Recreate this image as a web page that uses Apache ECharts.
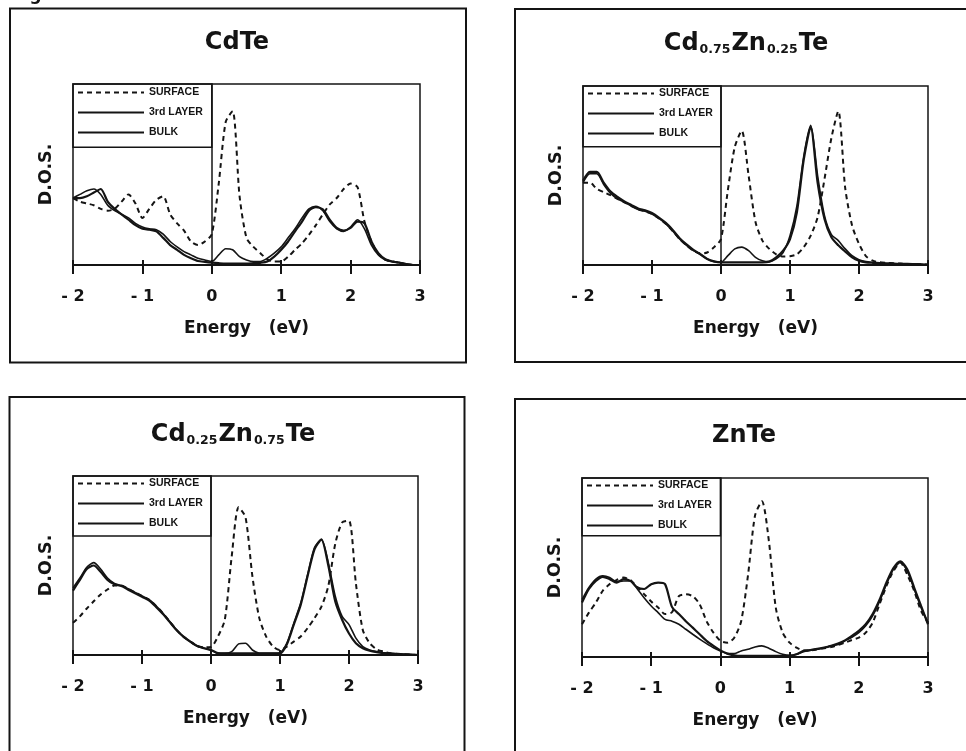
<!DOCTYPE html>
<html>
<head>
<meta charset="utf-8">
<script src="https://cdn.jsdelivr.net/npm/echarts@6/dist/echarts.min.js"></script>
<style>
html,body{margin:0;padding:0;background:#fff;}
#chart{width:966px;height:751px;}
</style>
</head>
<body>
<div id="chart"></div>
<script>
// ---------------- DATA ----------------
const energy = [-2,-1.9,-1.8,-1.7,-1.6,-1.5,-1.4,-1.3,-1.2,-1.1,-1,-0.9,-0.8,-0.7,-0.6,-0.5,-0.4,-0.3,-0.2,-0.1,
  0,0.1,0.2,0.3,0.4,0.5,0.6,0.7,0.8,0.9,1,1.1,1.2,1.3,1.4,1.5,1.6,1.7,1.8,1.9,2,2.1,2.2,2.3,2.4,2.5,2.6,2.7,2.8,2.9,3];
const tickValues = [-2,-1,0,1,2,3];
const tickLabels = ['- 2','- 1','0','1','2','3'];
const seriesNames = ['SURFACE','3rd LAYER','BULK'];
const panelTitles = ['CdTe','Cd{s|0.75}Zn{s|0.25}Te','Cd{s|0.25}Zn{s|0.75}Te','ZnTe'];

// CdTe
const cdteSurface = [37,35,34,33,31,30,31,35,39,34,26,31,36,38,28,23,19,13,11,13,17,
  45,79,85,38,15,10,6.5,3,2,2, 4.6,8.4,12,16.7,22,28,33.5,37,42,45, 43,24,13,6,3,2,1.3,0.5,0,0];
const cdteThird = [37,39,41,42,39,33,30,28,26,23,21,20,19.5,17,13,10,7.4,5.6,3.7,2.8,1.9,
  5.6,9,8.4,4.6,2.8,1.9,1.9,3.7,6.5,10, 15,20,26,31,32.5,30,24,20,18.6,21, 25,20,11,5.6,2.8,1.9,1.3,0.5,0,0];
const cdteBulk = [37,37,38,40,42,35,31,28,25,22,20,19.5,18.6,15,11,8.4,5.6,3.7,2.2,1.7,1.3,
  1,0.8,0.8,0.8,0.8,1,1.2,1.9,4.6,8.4, 13,18.6,24,30,32,30.7,25,20.5,19,20.5, 24,23,13,6.5,3.2,1.9,1.3,0.5,0,0];

// Cd0.75Zn0.25Te
const czt75Surface = [46,46,42.5,40.7,39,37,35,33,31,30,28.5,26,23,19,14.5,11,8,6.5,7,10,14.5,
  42,66,75,50,24,13.6,9,6,4.7,4.9, 6,10,16.4,26.7,48,71,86,43,22,11.8, 5,2.4,1.5,1.2,1,0.8,0.6,0.6,0.4,0.2];
const czt75Third = [46,51,51,45,40,37,35,33,31,30,28.5,26,23,19,14.5,11,8,6,3.4,1.9,1.5,
  5.2,9,10,8,4.3,2.4,1.9,3.4,7,16.4, 33,61,78,50,27.6,17,13.6,9,5.2,3, 1.9,1.5,1.2,1,0.8,0.6,0.6,0.5,0.4,0.2];
const czt75Bulk = [47,52,52,46,41,38,35.5,33.5,31.5,30.5,29,26.5,23.5,19.5,15,11.5,8.5,6,3.4,2,1.5,
  1.5,1.5,1.5,1.5,1.5,1.5,1.9,4.3,8,14.5, 29.5,59,77,46,25.7,15.5,11,7.5,4.3,2.4, 1.5,1.2,1,0.8,0.8,0.6,0.6,0.5,0.4,0.2];

// Cd0.25Zn0.75Te
const czt25Surface = [18,21.6,26,30,33.8,36.6,38.8,38.8,37,35,33,31,27.6,23.5,18.8,14,10.3,7.5,5,4.3,4.5,
  10.3,19.7,55,82.5,77,44,20.6,10.3,4.7,2.8, 4.7,7.5,10.3,15,20.6,27,38.5,62,74,75, 40,14,6.6,3.2,1.9,1,0.6,0.4,0.2,0];
const czt25Third = [37.5,43,49,51.6,48,43,40,38.8,37,35,33,31,27.6,23.5,18.8,14,10.3,7.5,5,3.8,2.8,
  0.9,0.9,1.9,6.2,6.6,2.8,1,0.9,0.9,1.3, 6.6,17.8,29,45,60,64.7,51.6,33,21.6,17, 9.4,4.7,2.8,1.9,1.3,0.9,0.6,0.4,0.2,0];
const czt25Bulk = [36,42,48,50,46.5,42,39.5,38.5,36.5,34.5,32.5,30.5,27,23,18.5,14,10.3,7.5,5,3.8,2.8,
  1,0.9,0.9,0.9,0.9,0.9,0.9,0.9,0.9,0.9, 6,17,28,44,59,64.5,50,30,19.7,12, 6.6,3.8,2.4,1.6,1.1,0.8,0.6,0.4,0.2,0];

// ZnTe
const znteSurface = [18.3,24.8,30.4,37,40.7,43,44.4,43,39,35,31,27.6,24,25,34,35,34,29.5,20,13.6,9,
  8,10.8,20,46,79,87,65,27.6,13.6,8, 5.2,3.7,3.7,4.3,4.9,5.6,6.7,8,9.5,10.8, 13.6,19.2,29.5,39.7,48,52.8,46,37,25.7,19.2];
const znteThird = [32,38.8,43.5,45.3,44.4,42,42.5,42.5,38,33,28.5,24.8,21,20,18.3,15.5,12.7,10,7.5,5.2,3.4,
  1.9,1.9,3.4,4.3,5.6,6.2,4.9,3,1.5,0.9, 1.5,3,3.7,4.3,5.2,6.2,7,9,11,13.6, 17.4,23,31,40.7,49,52.8,48,38,27.6,19.2];
const znteBulk = [30.4,38,42.5,44.8,43.5,41.6,43.5,42.5,38.8,38,40.7,41.6,40.7,28,24,20,16.4,12.7,9,6.2,3.7,
  1.9,0.9,0.6,0.6,0.6,0.6,0.6,0.6,0.6,0.6, 1.5,3.4,3.9,4.5,5.2,6.2,7.5,9.3,11.8,14.6, 18.3,24,32,41.6,49.6,53.4,49,38.8,28.5,18.3];

const panelSeries = [
  [cdteSurface, cdteThird, cdteBulk],
  [czt75Surface, czt75Third, czt75Bulk],
  [czt25Surface, czt25Third, czt25Bulk],
  [znteSurface, znteThird, znteBulk]
];
// y value (in the 0..100 D.O.S. scale) of the bottom edge of each legend box
const legendFloor = [65, 66, 66.5, 67.8];

// ---------------- LAYOUT / STYLE ----------------
const layout = [
  {grid:{left:73, top:84, width:347, height:181}, title:{left:237, top:31}, legend:{left:77, top:87}},
  {grid:{left:583, top:86, width:345, height:179}, title:{left:746, top:32}, legend:{left:587, top:88}},
  {grid:{left:73, top:476, width:345, height:179}, title:{left:233, top:423}, legend:{left:77, top:478}},
  {grid:{left:582, top:478, width:346, height:179}, title:{left:744, top:424}, legend:{left:586, top:480}}
];
const INK = '#141414';
const FONT = '"DejaVu Sans", "Liberation Sans", sans-serif';
const lineStyles = [
  {color: INK, width: 2, type: [5, 4]},
  {color: INK, width: 1.6, type: 'solid'},
  {color: INK, width: 2.2, type: 'solid'}
];

const grids = [], xAxes = [], yAxes = [], series = [], legends = [], titles = [];
layout.forEach((L, i) => {
  grids.push(Object.assign({show: true, borderColor: INK, borderWidth: 1.5, backgroundColor: 'transparent'}, L.grid));
  xAxes.push({
    type: 'value', gridIndex: i, min: -2, max: 3, interval: 1, position: 'bottom',
    axisLine: {show: true, onZero: false, lineStyle: {color: INK, width: 2}},
    axisTick: {show: true, inside: false, length: 9, lineStyle: {color: INK, width: 2}},
    axisLabel: {margin: 24, fontSize: 16, fontWeight: 'bold', color: INK, fontFamily: FONT,
      formatter: v => { const k = tickValues.indexOf(Math.round(v)); return k >= 0 ? tickLabels[k] : ''; }},
    splitLine: {show: false},
    name: 'Energy   (eV)', nameLocation: 'middle', nameGap: 55,
    nameTextStyle: {fontSize: 17, fontWeight: 'bold', color: INK, fontFamily: FONT}
  });
  xAxes.push({
    type: 'value', gridIndex: i, min: -2, max: 3, interval: 1, position: 'bottom',
    axisLine: {show: false, onZero: false},
    axisTick: {show: true, inside: true, length: 5, lineStyle: {color: INK, width: 2}},
    axisLabel: {show: false}, splitLine: {show: false}
  });
  yAxes.push({
    type: 'value', gridIndex: i, min: 0, max: 100, position: 'left',
    axisLine: {show: false, onZero: false}, axisTick: {show: false}, axisLabel: {show: false}, splitLine: {show: false},
    name: 'D.O.S.', nameLocation: 'middle', nameGap: 18, nameRotate: 90,
    nameTextStyle: {fontSize: 17.5, fontWeight: 'bold', color: INK, fontFamily: FONT}
  });
  yAxes.push({
    type: 'value', gridIndex: i, min: 0, max: 100,
    axisLine: {show: true, onZero: true, lineStyle: {color: INK, width: 1.5}},
    axisTick: {show: false}, axisLabel: {show: false}, splitLine: {show: false}
  });
  panelSeries[i].forEach((vals, s) => {
    const ser = {
      type: 'line', name: seriesNames[s], xAxisIndex: 2 * i, yAxisIndex: 2 * i,
      data: energy.map((e, k) => [e, vals[k]]),
      symbol: 'none', showSymbol: false, smooth: 0.25, silent: true,
      itemStyle: {color: INK},
      lineStyle: lineStyles[s], z: 3 + s
    };
    if (s === 0) {
      ser.markArea = {
        silent: true, label: {show: false},
        itemStyle: {color: 'rgba(0,0,0,0)', borderColor: INK, borderWidth: 1.5},
        data: [[{xAxis: -2, yAxis: legendFloor[i]}, {xAxis: 0, yAxis: 100}]]
      };
    }
    series.push(ser);
  });
  legends.push({
    left: L.legend.left, top: L.legend.top, orient: 'vertical', padding: 0,
    itemWidth: 66, itemHeight: 12, itemGap: 9, selectedMode: false,
    itemStyle: {opacity: 0},
    data: seriesNames,
    textStyle: {fontSize: 10.5, fontWeight: 'bold', color: INK, fontFamily: '"Liberation Sans", sans-serif'}
  });
  titles.push({
    text: panelTitles[i], left: L.title.left, top: L.title.top, textAlign: 'center', padding: 0,
    textStyle: {fontSize: 24, fontWeight: 'bold', color: INK, fontFamily: FONT,
      rich: {s: {fontSize: 12.5, fontWeight: 'bold', color: INK, fontFamily: FONT, verticalAlign: 'bottom', padding: [10, 1, 0, 1]}}}
  });
});

const frame = {fill: 'none', stroke: INK, lineWidth: 2};
const chart = echarts.init(document.getElementById('chart'), null, {renderer: 'canvas'});
chart.setOption({
  animation: false,
  backgroundColor: '#ffffff',
  title: titles,
  legend: legends,
  grid: grids,
  xAxis: xAxes,
  yAxis: yAxes,
  series: series,
  graphic: [
    {type: 'text', left: 12, top: -13, style: {text: 'Figure 6.', font: 'bold 17px "DejaVu Sans"', fill: INK}},
    {type: 'rect', shape: {x: 10, y: 8.5, width: 456, height: 354}, style: frame},
    {type: 'rect', shape: {x: 515, y: 9, width: 470, height: 353}, style: frame},
    {type: 'rect', shape: {x: 9.5, y: 397, width: 455, height: 380}, style: frame},
    {type: 'rect', shape: {x: 515, y: 399, width: 470, height: 380}, style: frame}
  ]
});
</script>
</body>
</html>
